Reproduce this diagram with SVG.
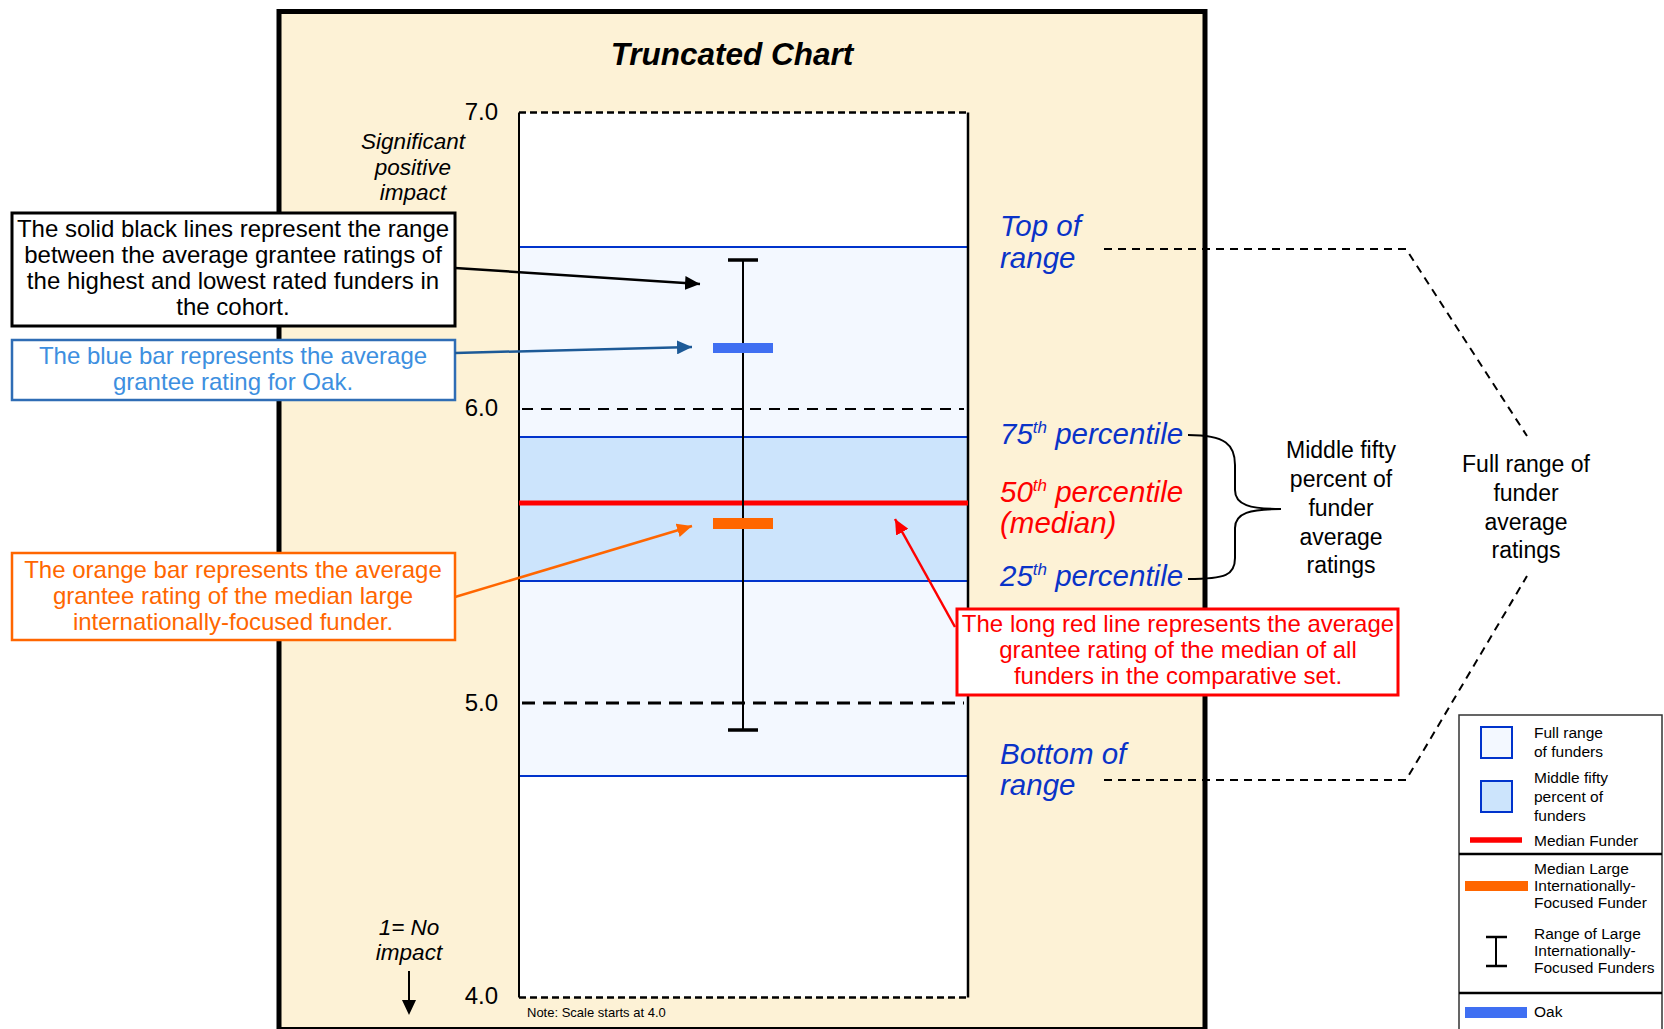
<svg xmlns="http://www.w3.org/2000/svg" width="1664" height="1029" viewBox="0 0 1664 1029">
<style>
text{font-family:"Liberation Sans",Arial,sans-serif}
.ax{font-size:24px;fill:#000;text-anchor:end}
.it{font-style:italic}
.box{font-size:24px;text-anchor:middle}
.rl{font-size:29.5px;font-style:italic;fill:#0A33C8}
.rl.red{fill:#FF0000}
.mid{font-size:23px;text-anchor:middle;fill:#000}
.lg{font-size:15.5px;fill:#000}
.grid{stroke:#000;fill:none}
</style>
<defs>
<marker id="ahK" markerUnits="userSpaceOnUse" markerWidth="16" markerHeight="14" refX="15" refY="7" orient="auto"><path d="M0,0 L15,7 L0,14 z" fill="#000"/></marker>
<marker id="ahB" markerUnits="userSpaceOnUse" markerWidth="16" markerHeight="14" refX="15" refY="7" orient="auto"><path d="M0,0 L15,7 L0,14 z" fill="#1D5A97"/></marker>
<marker id="ahO" markerUnits="userSpaceOnUse" markerWidth="16" markerHeight="14" refX="15" refY="7" orient="auto"><path d="M0,0 L15,7 L0,14 z" fill="#FF6600"/></marker>
<marker id="ahR" markerUnits="userSpaceOnUse" markerWidth="16" markerHeight="14" refX="15" refY="7" orient="auto"><path d="M0,0 L15,7 L0,14 z" fill="#FF0000"/></marker>
</defs>
<rect width="1664" height="1029" fill="#fff"/>

<g id="panel">
<rect x="279" y="11.5" width="926" height="1018" fill="#FDF2D6" stroke="#000" stroke-width="5"/>
<text x="732" y="65" font-size="31.5" font-weight="bold" font-style="italic" text-anchor="middle">Truncated Chart</text>
</g>

<g id="plot">
<rect x="519" y="112.5" width="449" height="885" fill="#fff"/>
<rect x="519" y="247" width="449" height="529" fill="#F3F8FF" stroke="#0033CC" stroke-width="2"/>
<rect x="519" y="437" width="449" height="144" fill="#CCE4FC" stroke="#0033CC" stroke-width="2"/>
<line x1="519" y1="112.5" x2="519" y2="997.5" stroke="#000" stroke-width="2"/>
<line x1="968" y1="112.5" x2="968" y2="997.5" stroke="#000" stroke-width="2.5"/>
<line class="grid" x1="519" y1="112.5" x2="968" y2="112.5" stroke-width="2.5" stroke-dasharray="7,4"/>
<line class="grid" x1="519" y1="997.5" x2="968" y2="997.5" stroke-width="2.5" stroke-dasharray="7,4"/>
<line class="grid" x1="522" y1="409" x2="964" y2="409" stroke-width="2" stroke-dasharray="11,8"/>
<line class="grid" x1="522" y1="703" x2="964" y2="703" stroke-width="3" stroke-dasharray="13,8"/>
<line x1="519" y1="503" x2="968" y2="503" stroke="#FF0000" stroke-width="5"/>
<line x1="743" y1="260" x2="743" y2="730" stroke="#000" stroke-width="2"/>
<line x1="728" y1="260" x2="758" y2="260" stroke="#000" stroke-width="3.5"/>
<line x1="728" y1="730" x2="758" y2="730" stroke="#000" stroke-width="3.5"/>
<rect x="713" y="343" width="60" height="10" fill="#3F6FF2"/>
<rect x="713" y="518" width="60" height="11" fill="#FF6600"/>
<text class="ax" x="498" y="120">7.0</text>
<text class="ax" x="498" y="416">6.0</text>
<text class="ax" x="498" y="711">5.0</text>
<text class="ax" x="498" y="1004">4.0</text>
<text x="527" y="1017" font-size="13">Note: Scale starts at 4.0</text>
</g>

<g id="axis-notes" class="it" font-size="22.5" text-anchor="middle">
<text x="413" y="149">Significant</text>
<text x="413" y="175">positive</text>
<text x="413" y="200">impact</text>
<text x="409" y="935">1= No</text>
<text x="409" y="960">impact</text>
<line x1="409" y1="971" x2="409" y2="1002" stroke="#000" stroke-width="2"/>
<path d="M402,1000 L416,1000 L409,1015 z" fill="#000"/>
</g>

<g id="callout-black">
<rect x="12" y="213" width="443" height="113" fill="#fff" stroke="#000" stroke-width="3"/>
<text class="box" x="233" y="237">The solid black lines represent the range</text>
<text class="box" x="233" y="263">between the average grantee ratings of</text>
<text class="box" x="233" y="289">the highest and lowest rated funders in</text>
<text class="box" x="233" y="315">the cohort.</text>
</g>

<g id="callout-blue">
<rect x="12" y="340" width="443" height="60" fill="#fff" stroke="#2F6DB5" stroke-width="2.5"/>
<text class="box" x="233" y="364" fill="#3D8FE0">The blue bar represents the average</text>
<text class="box" x="233" y="390" fill="#3D8FE0">grantee rating for Oak.</text>
</g>

<g id="callout-orange">
<rect x="12" y="553" width="443" height="87" fill="#fff" stroke="#FF6600" stroke-width="2.5"/>
<text class="box" x="233" y="578" fill="#FF6600">The orange bar represents the average</text>
<text class="box" x="233" y="604" fill="#FF6600">grantee rating of the median large</text>
<text class="box" x="233" y="630" fill="#FF6600">internationally-focused funder.</text>
</g>

<g id="callout-red">
<rect x="957" y="609" width="441" height="86" fill="#fff" stroke="#FF0000" stroke-width="3"/>
<text class="box" x="1178" y="632" fill="#FF0000">The long red line represents the average</text>
<text class="box" x="1178" y="658" fill="#FF0000">grantee rating of the median of all</text>
<text class="box" x="1178" y="684" fill="#FF0000">funders in the comparative set.</text>
</g>

<g id="range-labels">
<text class="rl" x="1000" y="236">Top of</text>
<text class="rl" x="1000" y="268">range</text>
<text class="rl" x="1000" y="444">75<tspan font-size="17" dy="-11">th</tspan><tspan dy="11"> percentile</tspan></text>
<text class="rl red" x="1000" y="502">50<tspan font-size="17" dy="-11">th</tspan><tspan dy="11"> percentile</tspan></text>
<text class="rl red" x="1000" y="533">(median)</text>
<text class="rl" x="1000" y="586">25<tspan font-size="17" dy="-11">th</tspan><tspan dy="11"> percentile</tspan></text>
<text class="rl" x="1000" y="764">Bottom of</text>
<text class="rl" x="1000" y="795">range</text>
</g>

<g id="middle-fifty-label">
<text class="mid" x="1341" y="458">Middle fifty</text>
<text class="mid" x="1341" y="487">percent of</text>
<text class="mid" x="1341" y="516">funder</text>
<text class="mid" x="1341" y="545">average</text>
<text class="mid" x="1341" y="573">ratings</text>
</g>

<g id="full-range-label">
<text class="mid" x="1526" y="472">Full range of</text>
<text class="mid" x="1526" y="501">funder</text>
<text class="mid" x="1526" y="530">average</text>
<text class="mid" x="1526" y="558">ratings</text>
</g>

<g id="connectors" fill="none">
<line x1="455" y1="268" x2="700" y2="284" stroke="#000" stroke-width="2.5" marker-end="url(#ahK)"/>
<line x1="455" y1="353" x2="692" y2="347" stroke="#1D5A97" stroke-width="2.5" marker-end="url(#ahB)"/>
<line x1="455" y1="597" x2="692" y2="526" stroke="#FF6600" stroke-width="2.5" marker-end="url(#ahO)"/>
<line x1="955" y1="627" x2="895" y2="519" stroke="#FF0000" stroke-width="2.5" marker-end="url(#ahR)"/>
<polyline points="1104,249 1406,249 1527,436" stroke="#000" stroke-width="2" stroke-dasharray="8,6"/>
<polyline points="1104,780 1406,780 1527,576" stroke="#000" stroke-width="2" stroke-dasharray="8,6"/>
<path d="M1188,435 C1226,435 1235,445 1235,465 L1235,490 C1235,505 1250,509 1281,509 C1250,509 1235,513 1235,528 L1235,558 C1235,575 1226,579 1188,579" stroke="#000" stroke-width="2"/>
</g>

<g id="legend">
<rect x="1459" y="715" width="203" height="330" fill="#fff" stroke="#333" stroke-width="1.5"/>
<line x1="1459" y1="854" x2="1662" y2="854" stroke="#000" stroke-width="2.5"/>
<line x1="1459" y1="993" x2="1662" y2="993" stroke="#000" stroke-width="2.5"/>
<rect x="1481" y="727" width="31" height="31" fill="#F3F8FF" stroke="#0033CC" stroke-width="2"/>
<text class="lg" x="1534" y="738">Full range</text>
<text class="lg" x="1534" y="757">of funders</text>
<rect x="1481" y="781" width="31" height="31" fill="#CCE4FC" stroke="#0033CC" stroke-width="2"/>
<text class="lg" x="1534" y="783">Middle fifty</text>
<text class="lg" x="1534" y="802">percent of</text>
<text class="lg" x="1534" y="821">funders</text>
<line x1="1470" y1="840" x2="1522" y2="840" stroke="#FF0000" stroke-width="5.5"/>
<text class="lg" x="1534" y="846">Median Funder</text>
<rect x="1465" y="881" width="63" height="10" fill="#FF6600"/>
<text class="lg" x="1534" y="874">Median Large</text>
<text class="lg" x="1534" y="891">Internationally-</text>
<text class="lg" x="1534" y="908">Focused Funder</text>
<line x1="1496" y1="937" x2="1496" y2="966" stroke="#000" stroke-width="2"/>
<line x1="1486" y1="937" x2="1507" y2="937" stroke="#000" stroke-width="2.5"/>
<line x1="1486" y1="966" x2="1507" y2="966" stroke="#000" stroke-width="2.5"/>
<text class="lg" x="1534" y="939">Range of Large</text>
<text class="lg" x="1534" y="956">Internationally-</text>
<text class="lg" x="1534" y="973">Focused Funders</text>
<rect x="1465" y="1007" width="62" height="11" fill="#3F6FF2"/>
<text class="lg" x="1534" y="1017">Oak</text>
</g>
</svg>
